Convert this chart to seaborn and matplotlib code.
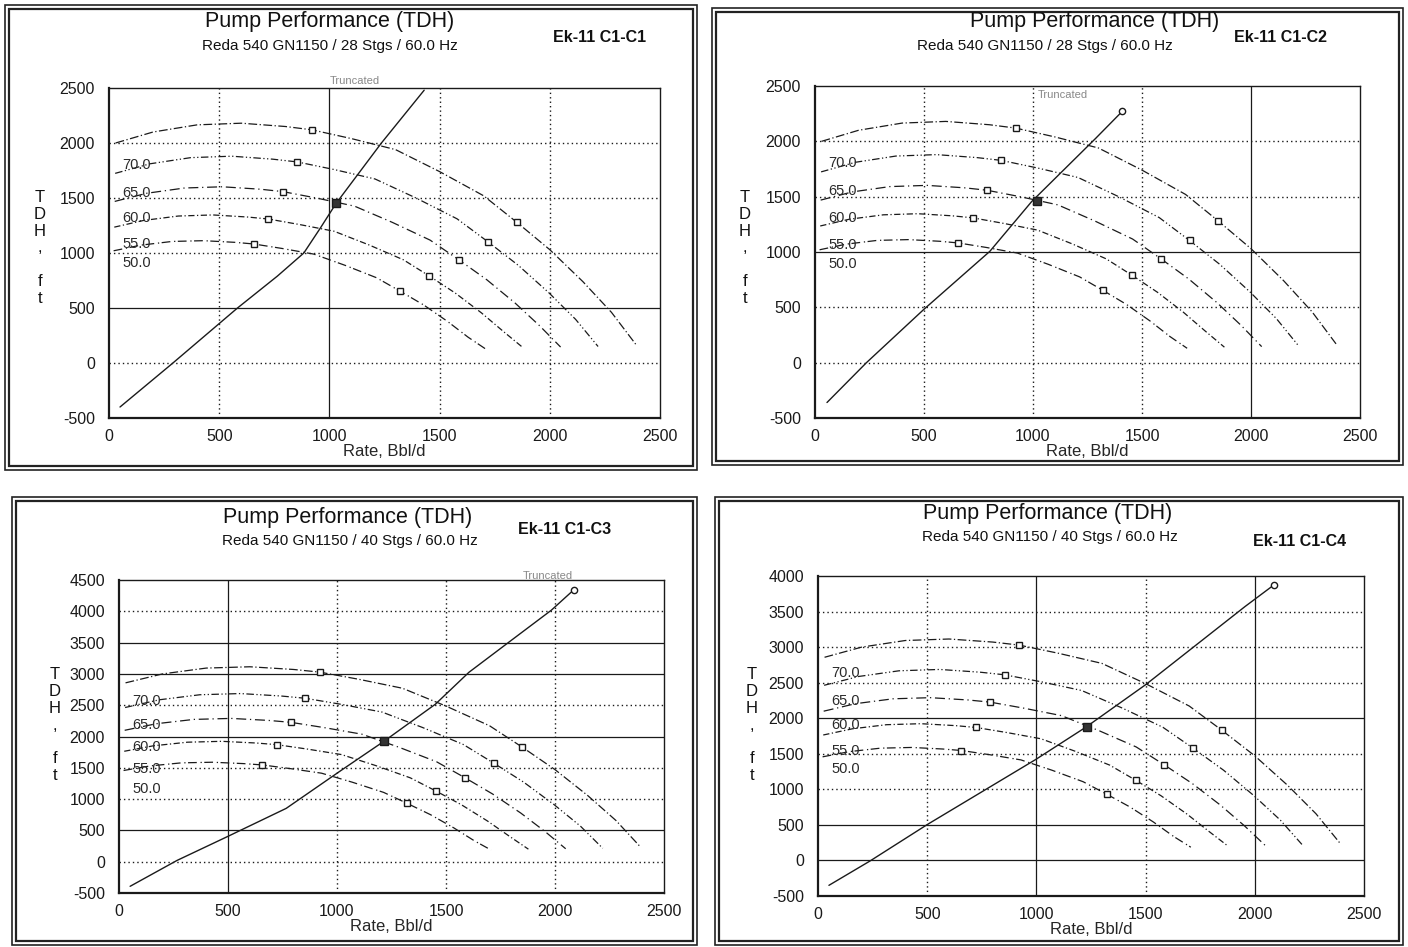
import matplotlib
matplotlib.use("Agg")
import matplotlib.pyplot as plt
import seaborn as sns
import pandas as pd
from matplotlib.patches import Rectangle

# ---------------- data ----------------
FREQ_LABELS = ["70.0", "65.0", "60.0", "55.0", "50.0"]

RATE_70 = [30, 200, 400, 600, 800, 920, 1100, 1300, 1500, 1700, 1850, 2000, 2150, 2280, 2390]
RATE_65 = [28, 186, 371, 557, 743, 854, 1021, 1207, 1393, 1579, 1718, 1857, 1996, 2117, 2219]
RATE_60 = [26, 171, 343, 514, 686, 789, 943, 1114, 1286, 1457, 1586, 1714, 1843, 1954, 2049]
RATE_55 = [24, 157, 314, 471, 629, 723, 864, 1021, 1179, 1336, 1454, 1571, 1689, 1791, 1878]
RATE_50 = [21, 143, 286, 429, 571, 657, 786, 929, 1071, 1214, 1321, 1429, 1536, 1629, 1707]

# 28 stages
HEAD28_70 = [2000, 2100, 2165, 2180, 2150, 2120, 2040, 1940, 1740, 1520, 1280, 1030, 740, 460, 170]
HEAD28_65 = [1724, 1811, 1867, 1880, 1853, 1828, 1759, 1673, 1500, 1311, 1104, 888, 638, 397, 150]
HEAD28_60 = [1469, 1543, 1591, 1602, 1580, 1558, 1499, 1426, 1278, 1117, 940, 757, 544, 338, 145]
HEAD28_55 = [1235, 1296, 1336, 1346, 1327, 1309, 1259, 1198, 1074, 938, 790, 636, 457, 284, 140]
HEAD28_50 = [1020, 1071, 1105, 1112, 1097, 1082, 1041, 990, 888, 775, 653, 526, 378, 235, 130]

# 40 stages
HEAD40_70 = [2857, 3000, 3093, 3114, 3071, 3029, 2914, 2771, 2486, 2171, 1829, 1471, 1057, 657, 243]
HEAD40_65 = [2463, 2587, 2667, 2686, 2647, 2611, 2513, 2390, 2143, 1873, 1577, 1269, 911, 567, 214]
HEAD40_60 = [2099, 2204, 2273, 2289, 2257, 2226, 2141, 2037, 1826, 1596, 1343, 1081, 777, 483, 207]
HEAD40_55 = [1764, 1851, 1909, 1923, 1896, 1870, 1799, 1711, 1534, 1340, 1129, 909, 653, 406, 200]
HEAD40_50 = [1457, 1530, 1579, 1589, 1567, 1546, 1487, 1414, 1269, 1107, 933, 751, 540, 336, 186]

# system (tubing) curves
SYS1_Q = [50, 290, 583, 764, 884, 960, 1030, 1236, 1430]
SYS1_H = [-400, 0, 500, 790, 1000, 1230, 1450, 2000, 2480]
SYS2_Q = [55, 236, 499, 802, 994, 1287, 1409]
SYS2_H = [-360, 0, 481, 1006, 1456, 2026, 2270]
SYS3_Q = [51, 266, 501, 767, 1012, 1216, 1451, 1605, 1809, 1983, 2085]
SYS3_H = [-393, 20, 407, 852, 1442, 1925, 2515, 3025, 3561, 4017, 4339]
SYS4_Q = [50, 238, 501, 996, 1228, 1500, 1955, 2090]
SYS4_H = [-350, -8, 506, 1418, 1877, 2471, 3570, 3880]

OP_Q = [1030, 1020, 1216, 1230]
OP_H = [1450, 1460, 1925, 1870]

TAGS = ["Ek-11 C1-C1", "Ek-11 C1-C2", "Ek-11 C1-C3", "Ek-11 C1-C4"]
SUBTITLES = ["Reda 540 GN1150 / 28 Stgs / 60.0 Hz", "Reda 540 GN1150 / 28 Stgs / 60.0 Hz",
             "Reda 540 GN1150 / 40 Stgs / 60.0 Hz", "Reda 540 GN1150 / 40 Stgs / 60.0 Hz"]
X_TICKS = [0, 500, 1000, 1500, 2000, 2500]
Y_TICKS_28 = [-500, 0, 500, 1000, 1500, 2000, 2500]
Y_TICKS_40A = [-500, 0, 500, 1000, 1500, 2000, 2500, 3000, 3500, 4000, 4500]
Y_TICKS_40B = [-500, 0, 500, 1000, 1500, 2000, 2500, 3000, 3500, 4000]

RATES = [RATE_70, RATE_65, RATE_60, RATE_55, RATE_50]
HEADS28 = [HEAD28_70, HEAD28_65, HEAD28_60, HEAD28_55, HEAD28_50]
HEADS40 = [HEAD40_70, HEAD40_65, HEAD40_60, HEAD40_55, HEAD40_50]

# ---------------- style ----------------
sns.set_theme(style="white")
plt.rcParams['font.family'] = ['Liberation Sans Narrow', 'Liberation Sans', 'DejaVu Sans']

W, H = 1408, 947
fig = plt.figure(figsize=(W / 100, H / 100), dpi=100)
fig.patch.set_facecolor("white")


def fx(px):
    return px / W


def fy(py):
    return 1 - py / H


panels = [
    dict(frame=(5, 5, 697, 470), axes=(109, 88, 660, 418), title=(330, 22), sub=(330, 46), tag=(600, 37),
         ylab=(40, 248), heads=HEADS28, sysq=SYS1_Q, sysh=SYS1_H, yticks=Y_TICKS_28, ylim=(-500, 2500),
         vsolid=[1000], vdot=[500, 1500, 2000], hsolid=[500], hdot=[0, 1000, 1500, 2000],
         labely=[1800, 1550, 1320, 1080, 910], trunc=(1000, 2560), endmark=False),
    dict(frame=(712, 8, 1403, 465), axes=(815, 86, 1360, 418), title=(1095, 21), sub=(1045, 46), tag=(1280, 37),
         ylab=(745, 248), heads=HEADS28, sysq=SYS2_Q, sysh=SYS2_H, yticks=Y_TICKS_28, ylim=(-500, 2500),
         vsolid=[2000], vdot=[500, 1000, 1500], hsolid=[1000], hdot=[0, 500, 1500, 2000],
         labely=[1800, 1550, 1310, 1060, 890], trunc=(1020, 2420), endmark=True),
    dict(frame=(12, 497, 697, 945), axes=(119, 580, 664, 893), title=(348, 518), sub=(350, 541), tag=(565, 530),
         ylab=(55, 725), heads=HEADS40, sysq=SYS3_Q, sysh=SYS3_H, yticks=Y_TICKS_40A, ylim=(-500, 4500),
         vsolid=[500], vdot=[1000, 1500, 2000], hsolid=[500, 2000, 3000, 3500], hdot=[0, 1000, 1500, 2500, 4000],
         labely=[2560, 2190, 1840, 1480, 1160], trunc=(1850, 4560), endmark=True),
    dict(frame=(715, 497, 1403, 945), axes=(818, 576, 1364, 896), title=(1048, 514), sub=(1050, 537), tag=(1300, 541),
         ylab=(752, 725), heads=HEADS40, sysq=SYS4_Q, sysh=SYS4_H, yticks=Y_TICKS_40B, ylim=(-500, 4000),
         vsolid=[1000, 2000], vdot=[500, 1500], hsolid=[0, 500, 2000], hdot=[1000, 1500, 2500, 3000, 3500],
         labely=[2640, 2240, 1900, 1540, 1280], trunc=None, endmark=True),
]

DASHES = [(0, (7, 2, 1, 2)), (0, (6, 2, 1, 2, 1, 2)), (0, (8, 3, 1, 3)), (0, (5, 2, 1, 2)), (0, (7, 3, 1, 2))]
INK = "#1a1a1a"

for i, p in enumerate(panels):
    # double frame
    x0, y0, x1, y1 = p["frame"]
    fig.patches.append(Rectangle((fx(x0), fy(y1)), fx(x1) - fx(x0), fy(y0) - fy(y1), transform=fig.transFigure,
                                 fill=False, lw=1.2, ec="#222222"))
    fig.patches.append(Rectangle((fx(x0 + 4), fy(y1 - 4)), fx(x1 - 4) - fx(x0 + 4), fy(y0 + 4) - fy(y1 - 4),
                                 transform=fig.transFigure, fill=False, lw=1.6, ec="#222222"))

    ax0, ay0, ax1, ay1 = p["axes"]
    ax = fig.add_axes([fx(ax0), fy(ay1), fx(ax1) - fx(ax0), fy(ay0) - fy(ay1)])
    ax.set_facecolor("white")
    ax.set_xlim(0, 2500)
    ax.set_ylim(*p["ylim"])

    for v in p["vdot"]:
        ax.axvline(v, color=INK, lw=1.0, ls=(0, (1, 2.2)), zorder=1)
    for v in p["vsolid"]:
        ax.axvline(v, color=INK, lw=0.9, zorder=1)
    for h in p["hdot"]:
        ax.axhline(h, color=INK, lw=1.0, ls=(0, (1, 2.2)), zorder=1)
    for h in p["hsolid"]:
        ax.axhline(h, color=INK, lw=0.9, zorder=1)

    for k in range(5):
        df = pd.DataFrame({"Rate": RATES[k], "TDH": p["heads"][k]})
        sns.lineplot(data=df, x="Rate", y="TDH", ax=ax, sort=False, estimator=None,
                     color=INK, lw=0.9, linestyle=DASHES[k], zorder=3)
        ax.plot([RATES[k][5], RATES[k][10]], [p["heads"][k][5], p["heads"][k][10]], ls="none",
                marker="s", ms=4.5, mfc="white", mec=INK, mew=1.0, zorder=4)
        ax.text(60, p["labely"][k], FREQ_LABELS[k], fontsize=10.5, color="#2a2a2a", va="center", ha="left",
                zorder=5)

    sdf = pd.DataFrame({"Rate": p["sysq"], "TDH": p["sysh"]})
    sns.lineplot(data=sdf, x="Rate", y="TDH", ax=ax, sort=False, estimator=None, color=INK, lw=1.0, zorder=3)
    if p["endmark"]:
        ax.plot([p["sysq"][-1]], [p["sysh"][-1]], ls="none", marker="o", ms=4.5, mfc="white", mec=INK, zorder=4)
    ax.plot([OP_Q[i]], [OP_H[i]], ls="none", marker="s", ms=6, mfc="#333333", mec=INK, zorder=5)

    if p["trunc"] is not None:
        ax.text(p["trunc"][0], p["trunc"][1], "Truncated", fontsize=8, color="#888888", ha="left",
                va="center", clip_on=False)

    ax.set_xticks(X_TICKS)
    ax.set_yticks(p["yticks"])
    ax.set_xticklabels([str(t) for t in X_TICKS], fontsize=11.5)
    ax.set_yticklabels([str(t) for t in p["yticks"]], fontsize=11.5)
    ax.tick_params(axis="both", direction="out", length=6, width=1.2, colors=INK, pad=2)
    ax.tick_params(axis="y", length=8)
    for s in ax.spines.values():
        s.set_color(INK)
        s.set_linewidth(1.0)
    ax.spines["left"].set_linewidth(1.6)
    ax.spines["bottom"].set_linewidth(1.6)
    ax.set_xlabel("Rate, Bbl/d", fontsize=12, labelpad=0)
    ax.set_ylabel("")

    fig.text(fx(p["title"][0]), fy(p["title"][1]), "Pump Performance (TDH)", fontsize=15.5, ha="center",
             va="center", color="#111111")
    fig.text(fx(p["sub"][0]), fy(p["sub"][1]), SUBTITLES[i], fontsize=11, ha="center", va="center",
             color="#111111")
    fig.text(fx(p["tag"][0]), fy(p["tag"][1]), TAGS[i], fontsize=11.5, ha="center", va="center",
             color="#111111", fontweight="bold")
    fig.text(fx(p["ylab"][0]), fy(p["ylab"][1]), "T\nD\nH\n,\n\nf\nt", fontsize=12, ha="center",
             va="center", linespacing=1.15, color="#111111")

fig.savefig("out.png", dpi=100, facecolor="white")
